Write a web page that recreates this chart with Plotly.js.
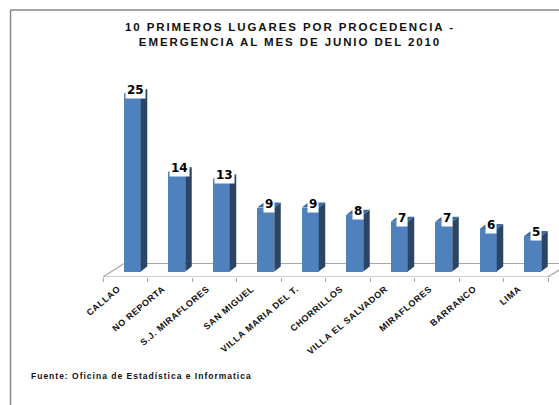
<!DOCTYPE html>
<html><head><meta charset="utf-8">
<script src="https://cdn.plot.ly/plotly-3.0.1.min.js"></script>
<style>
html,body{margin:0;padding:0;background:#fff;overflow:hidden}
#c{width:559px;height:405px}
.gtitle{letter-spacing:1.9px}
.xtick text{letter-spacing:0.6px}
.annotation.src text{letter-spacing:1px}
</style></head><body><div id="c"></div>
<script>
const categories = ["CALLAO","NO REPORTA","S.J. MIRAFLORES","SAN MIGUEL","VILLA MARIA DEL T.","CHORRILLOS","VILLA EL SALVADOR","MIRAFLORES","BARRANCO","LIMA"];
const values = [25,14,13,9,9,8,7,7,6,5];
const titleText = "10 PRIMEROS LUGARES POR PROCEDENCIA -<br>EMERGENCIA AL MES DE JUNIO DEL 2010";
const sourceText = "Fuente: Oficina de Estadística e Informatica";

const W=559,H=405,L=103,R=0,T=60,B=128;
const unitX=44.5, unitY=7.1;
const barW=17/unitX, off=7/unitX, depX=6.5/unitX, depY=5/unitY;
const idx=categories.map((_,i)=>i);
const yMin=-5.5/unitY, yMax=(271.5-T)/unitY;
const xMin=-0.5, xMax=xMin+(W-L)/unitX;

const sideX=[],sideY=[],topX=[],topY=[];
values.forEach((v,i)=>{
  const r=i+off+barW/2, l=i+off-barW/2;
  sideX.push(r,r+depX,r+depX,r,r,null);
  sideY.push(0,depY,v+depY,v,0,null);
  topX.push(l,l+depX,r+depX,r,l,null);
  topY.push(v,v+depY,v+depY,v,v,null);
});
const traces=[
 {type:'bar',x:idx.map(i=>i+off),y:values,width:barW,marker:{color:'#4F81BD',line:{width:0}},hoverinfo:'skip'},
 {type:'scatter',mode:'lines',x:sideX,y:sideY,fill:'toself',fillcolor:'#2A4565',line:{width:0,color:'#2A4565'},hoverinfo:'skip'},
 {type:'scatter',mode:'lines',x:topX,y:topY,fill:'toself',fillcolor:'#3F6A9E',line:{width:0,color:'#3F6A9E'},hoverinfo:'skip'}
];
const grey='#A6A6A6';
const ln=(x0,y0,x1,y1)=>({type:'line',xref:'x',yref:'y',layer:'below',x0,y0,x1,y1,line:{color:grey,width:1.2}});
const backY=8/unitY;
const px=x=>(x-L)/(W-L), py=y=>1-(y-T)/(H-T-B);
const borderLine=(x0,y0,x1,y1)=>({type:'line',xref:'paper',yref:'paper',x0:px(x0),y0:py(y0),x1:px(x1),y1:py(y1),line:{color:'#868686',width:1.5}});
const layout={
 width:W,height:H,margin:{l:L,r:R,t:T,b:B,pad:0},
 paper_bgcolor:'#fff',plot_bgcolor:'#fff',showlegend:false,bargap:0,
 font:{family:'"Liberation Sans",Arial,sans-serif',color:'#000'},
 title:{text:'<b>'+titleText+'</b>',font:{size:11.5,color:'#111'},x:290/W,xanchor:'center',y:1-31/H,yanchor:'middle'},
 xaxis:{type:'linear',range:[xMin,xMax],tickmode:'array',tickvals:idx,ticktext:categories.map(c=>'<b>'+c+'</b>'),
   tickangle:-40,ticks:'',showgrid:false,zeroline:false,showline:false,tickfont:{size:9,color:'#111'},ticklabelshift:-7,ticklabelstandoff:4,
   minor:{tickmode:'array',tickvals:idx.concat([categories.length]).map(i=>i-0.5),ticks:'outside',ticklen:4,tickwidth:1,tickcolor:grey,showgrid:false}},
 yaxis:{range:[yMin,yMax],visible:false,fixedrange:true},
 shapes:[
  ln(xMin,yMin,categories.length-0.5,yMin),
  ln(xMin+21/unitX,backY,xMax,backY),
  ln(xMin,yMin,xMin+21/unitX,backY),
  ln(categories.length-0.5,yMin,categories.length-0.5+21/unitX,backY),
  borderLine(10.5,10,W,10),
  borderLine(10.5,10,10.5,H)
 ],
 annotations:values.map((v,i)=>({x:i+off+3/unitX,y:v,xref:'x',yref:'y',text:'<b>'+v+'</b>',showarrow:false,
    font:{family:'"DejaVu Sans",sans-serif',size:12,color:'#000'},bgcolor:'#fff',borderpad:1,yanchor:'middle',yshift:4,xanchor:'center'}))
  .concat([{xref:'paper',yref:'paper',x:px(29),y:py(376),xanchor:'left',yanchor:'middle',showarrow:false,align:'left',
    text:'<b>'+sourceText+'</b>',font:{size:8.5,color:'#111'},captureevents:false}])
};
Plotly.newPlot('c',traces,layout,{displayModeBar:false,staticPlot:true}).then(()=>{
  const a=document.querySelectorAll('.annotation');
  if(a.length) a[a.length-1].classList.add('src');
});
</script></body></html>
